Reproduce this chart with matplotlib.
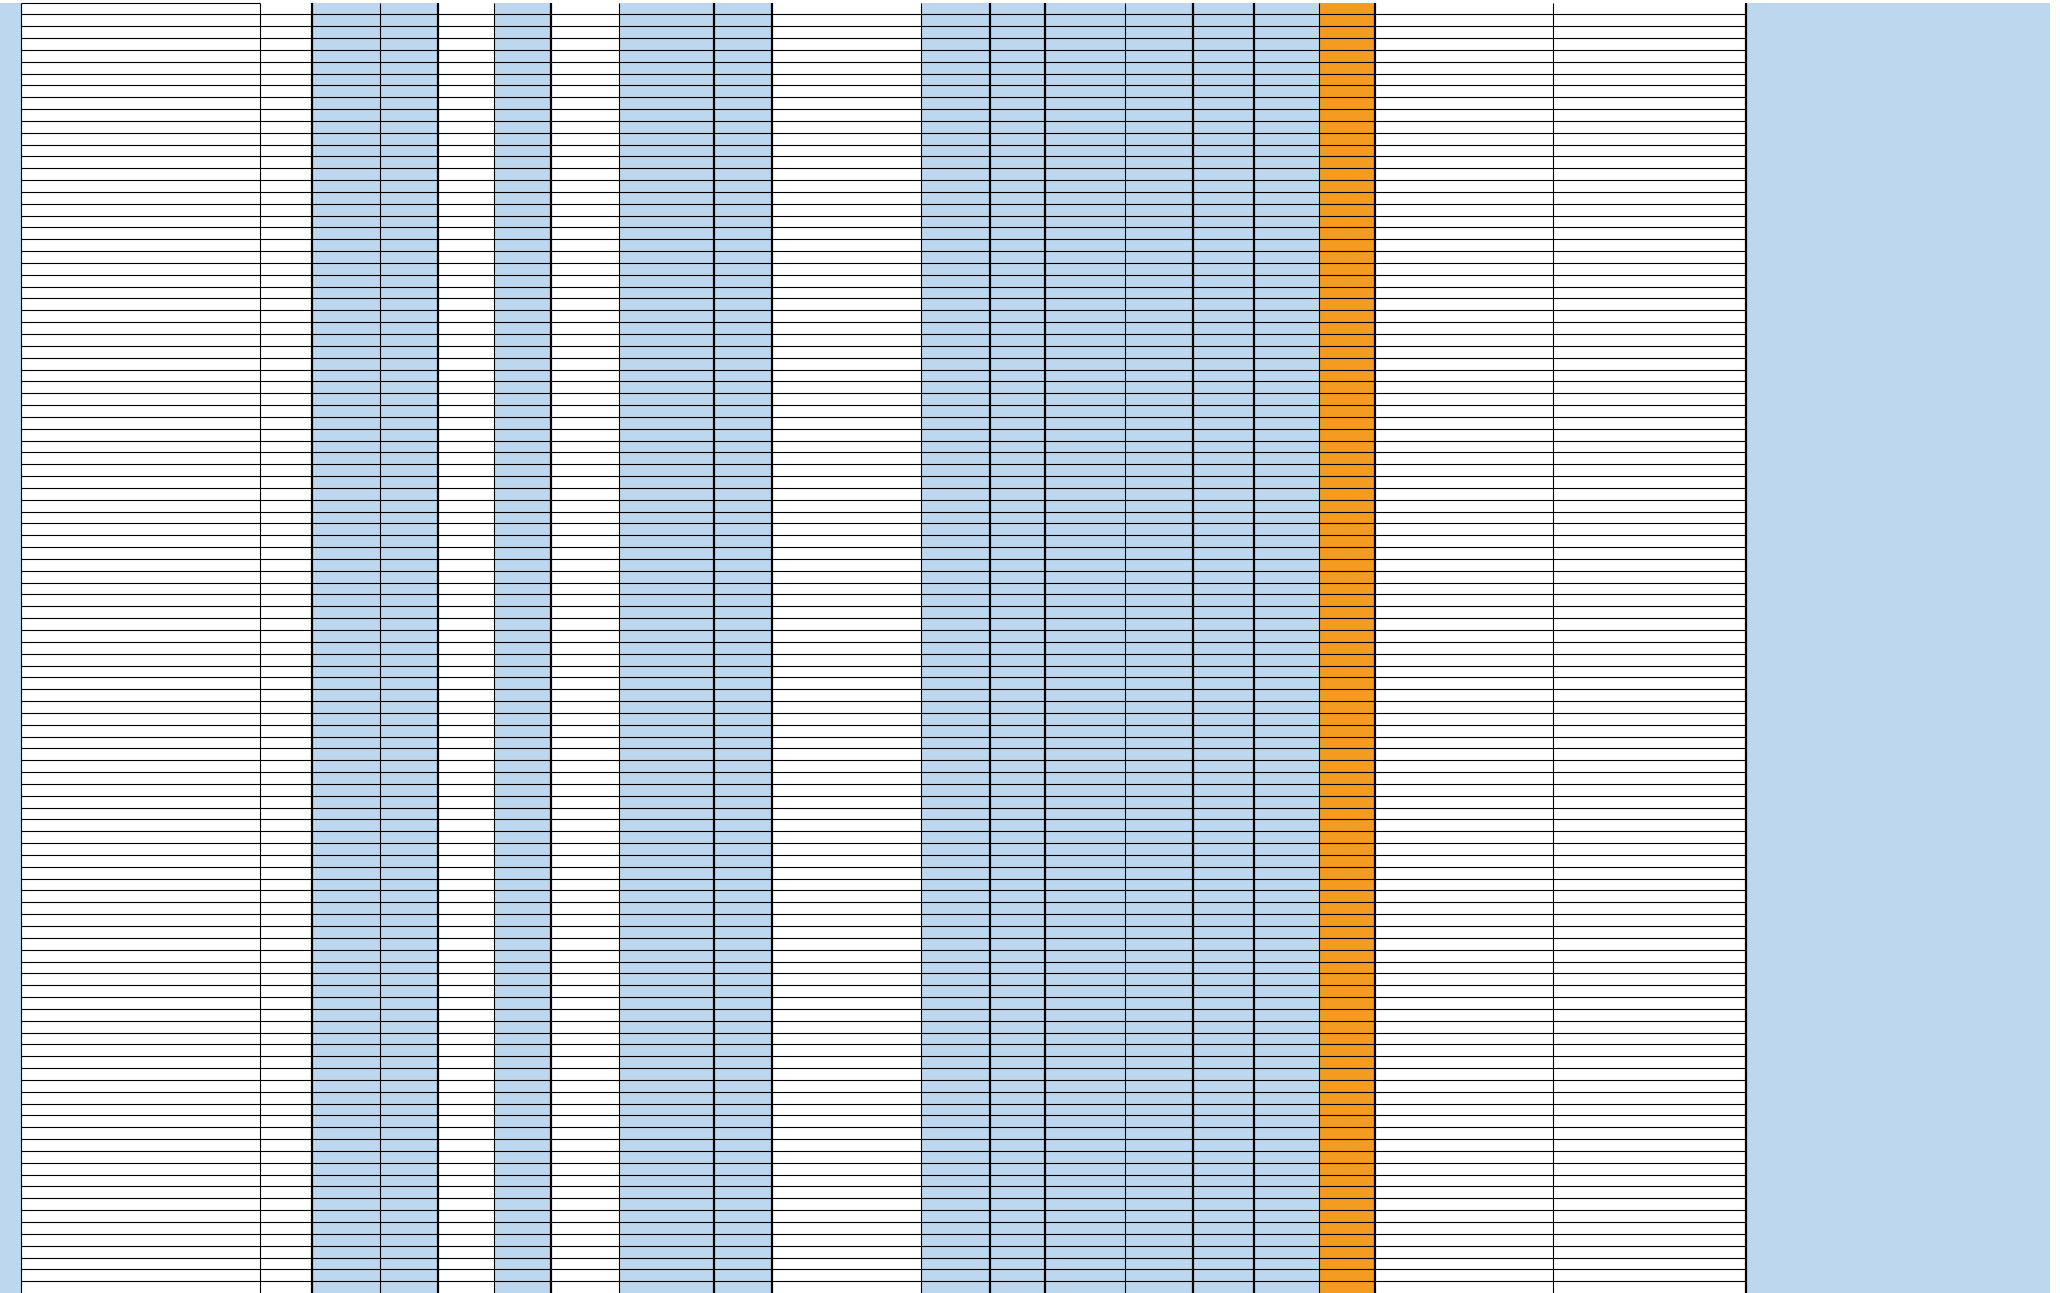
import matplotlib
matplotlib.use('Agg')
from matplotlib import pyplot as plt

# sheet layout (pixel units of a 2060x1293 image)
col_edges = [0, 21.3, 260, 312, 379.5, 437.7, 494.3, 550.7, 619, 714, 771.7,
             920.7, 990, 1045, 1124.7, 1193, 1254, 1319, 1375, 1553.3, 1746, 2050, 2060]
# fill of each column (between two edges)
col_fills = ['blue', 'white', 'white', 'blue', 'blue', 'white', 'blue', 'white',
             'blue', 'blue', 'white', 'blue', 'blue', 'blue', 'blue', 'blue',
             'blue', 'orange', 'white', 'white', 'blue', 'white']
# border weight of each inner edge (0 = none, 1 = thin, 2 = thick)
edge_weight = [0, 1, 1, 2, 1, 2, 1, 2, 1, 2, 2, 1, 2, 2, 1, 2, 2, 1, 2, 1, 2, 0, 0]

n_rows = 107          # body rows below the header row
grid_top = 2.7
header_bottom = 14.3
row_h = 11.84

colors = {'blue': '#BDD7EE', 'orange': '#F49C22', 'white': '#FFFFFF'}
lw = {1: 0.8, 2: 1.6}

fig = plt.figure(figsize=(20.6, 12.93), dpi=100)
ax = fig.add_axes([0, 0, 1, 1])
ax.set_xlim(0, 2060)
ax.set_ylim(1293, 0)
ax.axis('off')

# column fills
for i, c in enumerate(col_fills):
    if c == 'white':
        continue
    ax.fill_between([col_edges[i], col_edges[i + 1]], grid_top + 0.6, 1293,
                    color=colors[c], lw=0, zorder=1)

# horizontal row lines
left, right = col_edges[1], col_edges[20]
ax.hlines(grid_top, left, col_edges[2], color='black', lw=0.8, zorder=3)
ys = [header_bottom + k * row_h for k in range(n_rows + 1)]
ax.hlines(ys, left, right, color='black', lw=0.8, zorder=3)

# vertical column lines
for x, w in zip(col_edges, edge_weight):
    if w:
        ax.vlines(x, grid_top, 1293, color='black', lw=lw[w], zorder=4)

plt.savefig('out.png', dpi=100)
